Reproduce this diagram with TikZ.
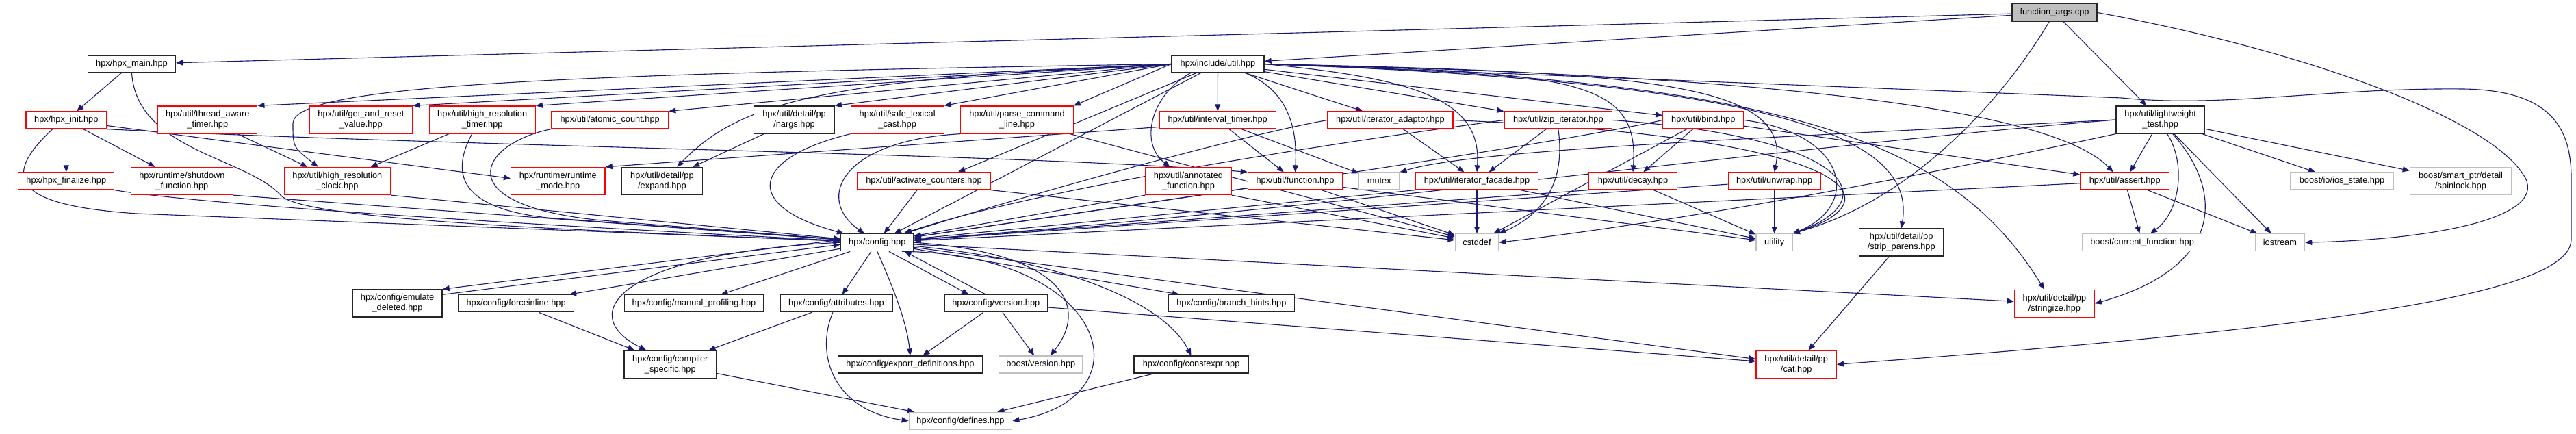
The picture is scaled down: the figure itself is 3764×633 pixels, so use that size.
\documentclass[tikz,border=0pt]{standalone}
\usepackage{fontspec}
\setmainfont{Liberation Sans}
\usetikzlibrary{arrows.meta}
\definecolor{edgec}{HTML}{191970}
\definecolor{gborder}{HTML}{BFBFBF}
\pgfdeclarelayer{bg}
\pgfsetlayers{bg,main}
\newcommand\dxfont{\fontsize{12.8}{15}\selectfont}
\tikzset{
  nbox/.style={draw, fill=white, inner sep=0pt, align=center, font=\dxfont, line width=1.3pt, minimum height=25pt},
  rb/.style={nbox, draw=red},
  rb2/.style={rb, minimum height=40pt},
  kb/.style={nbox, draw=black!85},
  kb2/.style={kb, minimum height=40pt},
  gb/.style={nbox, draw=gborder},
  gb2/.style={gb, minimum height=40pt},
  edg/.style={draw=edgec, line width=1.1pt, -{Triangle[length=10pt,width=8pt]}}
}
\begin{document}
\begin{tikzpicture}[x=1pt,y=-1pt]
\useasboundingbox (0,0) rectangle (3764,633);
% nodes
\node[kb, fill=gborder, minimum width=124pt, minimum height=25.6pt] (fa) at (3002,18.5) {function\_args.cpp};
\node[kb, minimum width=128pt] (main) at (192.5,93.5) {hpx/hpx\_main.hpp};
\node[kb, minimum width=135pt] (util) at (1779.5,93.5) {hpx/include/util.hpp};
\node[rb, minimum width=117.5pt] (init) at (96.8,175.5) {hpx/hpx\_init.hpp};
\node[rb2, minimum width=145pt] (tat) at (303.3,175) {hpx/util/thread\_aware\\\_timer.hpp};
\node[rb2, minimum width=151pt] (garv) at (527.4,175) {hpx/util/get\_and\_reset\\\_value.hpp};
\node[rb2, minimum width=155pt] (hrt) at (704.7,175) {hpx/util/high\_resolution\\\_timer.hpp};
\node[rb, minimum width=171pt] (atomic) at (891.2,175.5) {hpx/util/atomic\_count.hpp};
\node[kb2, minimum width=117.5pt] (nargs) at (1160.5,175) {hpx/util/detail/pp\\/nargs.hpp};
\node[rb2, minimum width=136pt] (slc) at (1311.2,175) {hpx/util/safe\_lexical\\\_cast.hpp};
\node[rb2, minimum width=164.5pt] (pcl) at (1486,175) {hpx/util/parse\_command\\\_line.hpp};
\node[rb, minimum width=170pt] (itimer) at (1779.2,175.5) {hpx/util/interval\_timer.hpp};
\node[rb, minimum width=183pt] (iadapt) at (2031.5,175.5) {hpx/util/iterator\_adaptor.hpp};
\node[rb, minimum width=157.6pt] (zip) at (2276.8,175.5) {hpx/util/zip\_iterator.hpp};
\node[rb, minimum width=118pt] (bind) at (2488.8,175.5) {hpx/util/bind.hpp};
\node[kb2, minimum width=129.6pt] (lwt) at (3156.7,175) {hpx/util/lightweight\\\_test.hpp};
\node[rb, minimum width=140pt] (fin) at (96.8,264.5) {hpx/hpx\_finalize.hpp};
\node[rb2, minimum width=149pt] (shut) at (265.9,264.5) {hpx/runtime/shutdown\\\_function.hpp};
\node[rb2, minimum width=155pt] (hrc) at (492.9,264.5) {hpx/util/high\_resolution\\\_clock.hpp};
\node[rb2, minimum width=137.6pt] (rtm) at (815.3,264.5) {hpx/runtime/runtime\\\_mode.hpp};
\node[kb2, minimum width=117.6pt] (expand) at (967.4,264.5) {hpx/util/detail/pp\\/expand.hpp};
\node[rb, minimum width=194.7pt] (actc) at (1350,264.5) {hpx/util/activate\_counters.hpp};
\node[rb2, minimum width=125.3pt] (annot) at (1736.5,264.5) {hpx/util/annotated\\\_function.hpp};
\node[rb, minimum width=138.3pt] (func) at (1892.5,264.5) {hpx/util/function.hpp};
\node[gb, minimum width=59.2pt] (mutex) at (2015.3,264.5) {mutex};
\node[rb, minimum width=178.8pt] (ifac) at (2158,264.5) {hpx/util/iterator\_facade.hpp};
\node[rb, minimum width=128.6pt] (decay) at (2386,264.5) {hpx/util/decay.hpp};
\node[rb, minimum width=134.7pt] (unwrap) at (2592.6,264.5) {hpx/util/unwrap.hpp};
\node[rb, minimum width=129.5pt] (assert) at (3104.7,264.5) {hpx/util/assert.hpp};
\node[gb, minimum width=150.3pt] (ios) at (3422,264.5) {boost/io/ios\_state.hpp};
\node[gb2, minimum width=148.2pt] (spin) at (3595.5,264.5) {boost/smart\_ptr/detail\\/spinlock.hpp};
\node[kb, minimum width=106.5pt] (config) at (1281.8,354.2) {hpx/config.hpp};
\node[gb, minimum width=63.7pt] (cstddef) at (2158,354.2) {cstddef};
\node[gb, minimum width=53pt] (utility) at (2592.6,354.2) {utility};
\node[kb2, minimum width=122.8pt] (strip) at (2778.2,354) {hpx/util/detail/pp\\/strip\_parens.hpp};
\node[gb, minimum width=174.4pt] (curfn) at (3130.1,354.2) {boost/current\_function.hpp};
\node[gb, minimum width=72.4pt] (iostream) at (3331.4,354.2) {iostream};
\node[kb2, minimum width=131pt] (emu) at (580.6,443) {hpx/config/emulate\\\_deleted.hpp};
\node[kb, minimum width=168.6pt] (force) at (754.1,443.2) {hpx/config/forceinline.hpp};
\node[kb, minimum width=202.5pt] (manual) at (1014,443.2) {hpx/config/manual\_profiling.hpp};
\node[kb, minimum width=164pt] (attr) at (1221.9,443.2) {hpx/config/attributes.hpp};
\node[kb, minimum width=150.6pt] (version) at (1455.3,443.2) {hpx/config/version.hpp};
\node[kb, minimum width=184pt] (branch) at (1799.4,443.2) {hpx/config/branch\_hints.hpp};
\node[rb2, minimum width=117.1pt] (stringize) at (3001.9,443.3) {hpx/util/detail/pp\\/stringize.hpp};
\node[kb2, minimum width=134.7pt] (compiler) at (979.3,532.3) {hpx/config/compiler\\\_specific.hpp};
\node[kb, minimum width=211pt] (export) at (1330,532.5) {hpx/config/export\_definitions.hpp};
\node[gb, minimum width=122.4pt] (bver) at (1520.8,532.5) {boost/version.hpp};
\node[kb, minimum width=167pt] (constexpr) at (1740.6,532.5) {hpx/config/constexpr.hpp};
\node[rb2, minimum width=117.2pt] (cat) at (2624.7,532.3) {hpx/util/detail/pp\\/cat.hpp};
\node[gb, minimum width=150.6pt] (defines) at (1403.5,614.8) {hpx/config/defines.hpp};

\begin{pgfonlayer}{bg}
\fill[white] (0,0) rectangle (3764,633);
% function_args
\draw[edg] (fa) -- (main);
\draw[edg] (fa) -- (util);
\draw[edg] (fa) -- (lwt);
\draw[edg] (fa) .. controls (2930,140) and (2800,290) .. (utility.north east);
\draw[edg] (fa.east) .. controls (3350,70) and (3640,170) .. (3690,260) .. controls (3720,320) and (3550,350) .. (iostream.east);
% hpx_main
\draw[edg] (main) -- (init);
\draw[edg] (main.south) .. controls (200,220) and (360,230) .. (410,285) .. controls (440,320) and (800,335) .. (config);
% hpx_init
\draw[edg] (init) -- (fin);
\draw[edg] (init) -- (shut);
\draw[edg] ([yshift=-8pt]init.east) -- ([yshift=4pt]rtm.west);
\draw[edg] (init.south east) .. controls (700,215) and (1500,225) .. (func.north west);
\draw[edg] ([xshift=-20pt]init.south) .. controls (0,260) and (20,300) .. (200,312) -- (config);
\draw[edg] (fin.south east) .. controls (300,300) and (800,330) .. (config);
\draw[edg] (shut.south east) -- (config);
% timers
\draw[edg] (tat) -- (hrc);
\draw[edg] (hrt) -- (hrc);
\draw[edg] ([xshift=-15pt]hrt.south) .. controls (655,260) and (680,305) .. (800,318) -- (config);
\draw[edg] (hrc.south east) -- (config);
\draw[edg] (atomic.south west) .. controls (700,210) and (650,300) .. (880,322) -- (config);
\draw[edg] (nargs) -- ([xshift=45pt]expand.north);
\draw[edg] (slc.south west) .. controls (1100,230) and (1080,300) .. (config);
\draw[edg] (pcl.south west) .. controls (1230,205) and (1190,290) .. (config);
\draw[edg] (pcl) -- (cstddef);
\draw[edg] (actc) -- (config);
\draw[edg] (actc.south east) -- (cstddef);
\draw[edg] (annot.south west) -- (config);
\draw[edg] (annot.south east) -- (cstddef);
\draw[edg] (itimer) -- (func);
\draw[edg] (itimer) -- (mutex);
\draw[edg] ([yshift=-10pt]itimer.west) -- (rtm.north east);
\draw[edg] (func) -- (config);
\draw[edg] (func) -- (cstddef);
\draw[edg] (func) -- (utility);
\draw[edg] (iadapt) -- (ifac);
\draw[edg] (iadapt.west) .. controls (1800,200) and (1450,300) .. (config);
\draw[edg] (iadapt.east) .. controls (2700,200) and (2780,290) .. (utility.north east);
\draw[edg] (ifac) -- (cstddef);
\draw[edg] (ifac.south west) -- (config);
\draw[edg] (ifac) -- (utility);
\draw[edg] (zip) -- (ifac);
\draw[edg] (zip.south) .. controls (2290,280) and (2240,320) .. (cstddef.north east);
\draw[edg] (zip.west) .. controls (1900,215) and (1500,280) .. (config);
\draw[edg] (zip.east) .. controls (2700,200) and (2760,290) .. (utility.north east);
\draw[edg] (decay.south west) -- (config);
\draw[edg] (decay) -- (utility);
\draw[edg] (bind) -- (decay);
\draw[edg] (bind) -- (assert);
\draw[edg] (bind) -- (cstddef);
\draw[edg] (bind.west) .. controls (2250,215) and (1650,300) .. (config);
\draw[edg] (bind.east) .. controls (2700,195) and (2720,300) .. (utility.north east);
\draw[edg] (unwrap) -- (utility);
\draw[edg] (unwrap) -- (config);
\draw[edg] (assert) -- (config);
\draw[edg] (assert) -- (curfn);
\draw[edg] (assert) -- (iostream);
% lightweight_test
\draw[edg] (lwt) -- (assert);
\draw[edg] ([xshift=10pt]lwt.south) .. controls (3195,240) and (3185,310) .. ([xshift=12pt]curfn.north);
\draw[edg] (lwt) -- (ios);
\draw[edg] (lwt) -- (spin);
\draw[edg] (lwt) -- (iostream);
\draw[edg] (lwt.south west) .. controls (2700,280) and (2400,330) .. (cstddef.east);
\draw[edg] (lwt.west) .. controls (2500,205) and (2150,220) .. (mutex.north east);
\draw[edg] (lwt.west) .. controls (2600,215) and (2000,300) .. (config);
\draw[edg] ([xshift=18pt]lwt.south) .. controls (3250,280) and (3250,390) .. (stringize.east);
% include/util
\draw[edg] (util.west) -- (tat.north east);
\draw[edg] (util.west) -- (garv.north east);
\draw[edg] (util.west) -- (hrt.north east);
\draw[edg] (util.west) -- (atomic.north east);
\draw[edg] (util.west) -- (nargs.north east);
\draw[edg] (util.west) -- (slc.north east);
\draw[edg] (util.west) -- (pcl.north east);
\draw[edg] (util.west) .. controls (800,108) and (430,125) .. (428,180) .. controls (428,215) .. ([xshift=-28pt]hrc.north);
\draw[edg] (util.west) .. controls (1200,115) and (1080,150) .. ([xshift=22pt]expand.north);
\draw[edg] (util) -- ([xshift=50pt]actc.north);
\draw[edg] ([xshift=-40pt]util.south) .. controls (1680,140) and (1665,210) .. ([xshift=-27pt]annot.north);
\draw[edg] (util) -- (itimer);
\draw[edg] ([xshift=40pt]util.south) .. controls (1890,135) and (1895,200) .. (func.north);
\draw[edg] (util) -- (iadapt);
\draw[edg] (util.east) .. controls (2080,115) and (2165,150) .. (ifac.north);
\draw[edg] (util) -- (zip);
\draw[edg] (util) -- (bind);
\draw[edg] (util.east) .. controls (2300,105) and (2395,115) .. (decay.north);
\draw[edg] (util.east) .. controls (2400,105) and (2620,120) .. (unwrap.north);
\draw[edg] (util.east) .. controls (2600,110) and (3000,160) .. ([xshift=-17pt]assert.north);
\draw[edg] (util.east) .. controls (2600,115) and (2850,200) .. ([xshift=-15pt]stringize.north);
\draw[edg] (util.east) .. controls (2600,120) and (2800,200) .. (strip.north);
\draw[edg] (util.east) -- (3100,143) .. controls (3250,158) and (3400,128) .. (3600,130) .. controls (3720,132) and (3757,180) .. (3757,260) -- (3757,350) .. controls (3757,430) and (3400,480) .. (cat.east);
\draw[edg] (util) -- (config);
% config
\draw[edg] ([yshift=4pt]config.west) -- (emu.north east);
\draw[edg] ([yshift=-8pt]emu.north east) -- ([yshift=-3pt]config.west);
\draw[edg] (config) -- (force);
\draw[edg] (config) -- (manual);
\draw[edg] (config) -- (attr);
\draw[edg] ([xshift=17pt]config.south) -- ([xshift=-40pt]version.north);
\draw[edg] ([xshift=-15pt]version.north) -- ([xshift=40pt]config.south);
\draw[edg] (config.west) .. controls (900,370) and (840,460) .. ([xshift=-35pt]compiler.north);
\draw[edg] (config.south) .. controls (1305,420) and (1325,470) .. (export.north);
\draw[edg] (config.east) .. controls (1560,370) and (1590,450) .. ([xshift=14pt]bver.north);
\draw[edg] (config.-20) .. controls (1620,370) and (1680,580) .. (defines.east);
\draw[edg] (config) .. controls (1550,380) and (1700,440) .. (constexpr.north);
\draw[edg] (config) -- (branch);
\draw[edg] (config) -- (stringize);
\draw[edg] (config) -- (cat);
\draw[edg] (version) -- (export);
\draw[edg] (version) -- (bver);
\draw[edg] (version) -- (cat);
\draw[edg] (force) -- (compiler);
\draw[edg] (attr) -- (compiler);
\draw[edg] ([xshift=-5pt]attr.south) .. controls (1190,520) and (1220,600) .. (defines.west);
\draw[edg] (compiler) -- (defines);
\draw[edg] (constexpr) -- (defines);
\draw[edg] (strip) -- (cat);
\end{pgfonlayer}
\end{tikzpicture}
\end{document}
